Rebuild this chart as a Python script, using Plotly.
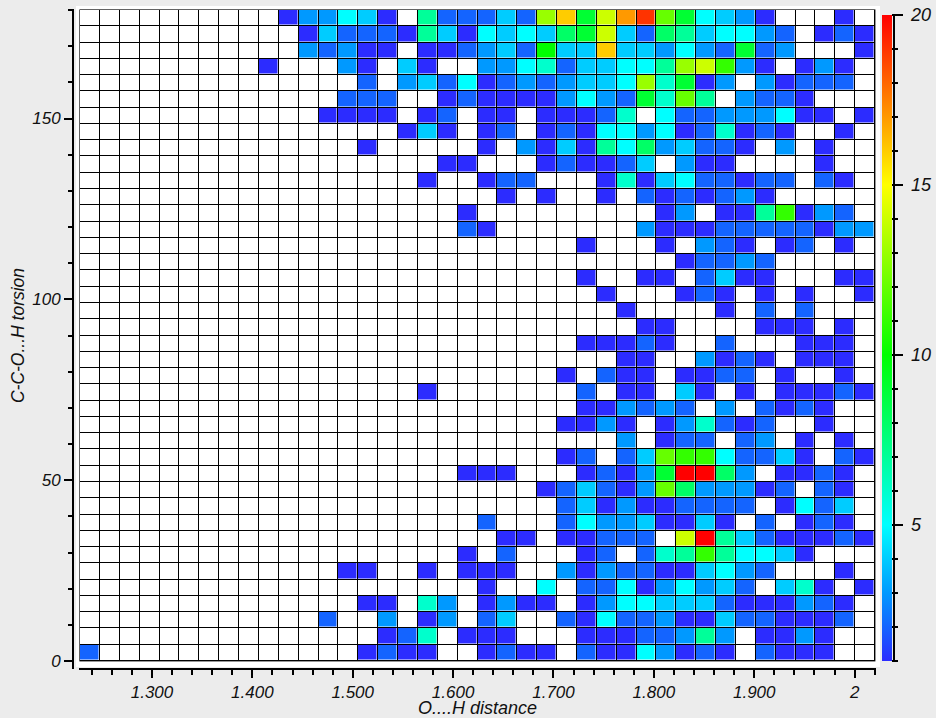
import plotly.graph_objects as go

B = ".........."
# rows top (170-ish to 180 deg) to bottom, one character per bin: '.' empty, base-36 count (a=10 ... k=20)
rows = [
    B + "133541.722" + "242dg9ehjc" + "95431...1.",
    B + ".142221741" + "545489e428" + "745532.121",
    B + ".32311.112" + "342a44g443" + "532923...1",
    ".........1" + "...31.41.." + "3356244557" + "deb31.131.",
    B + "....2.3425" + "12323445d6" + "913.31222.",
    B + "...222..12" + "1111353296" + "c7.3221...",
    B + "..1111.12." + "11.11126.5" + "22333511.1",
    B + "......141." + "12.1215535" + "126121..1.",
    B + "....1....." + "1.31417583" + "4221.3.1..",
    B + "........11" + "...121124." + "311....1..",
    B + ".......1.." + "122...1614" + "522122.21.",
    B + B + ".1.1..1.21" + "21231.....",
    B + ".........1" + ".........1" + "3.117b132.",
    B + ".........2" + "1.......31" + "1122222133",
    B + B + ".....1...1" + ".321.12.1.",
    B + B + B + "12232.....",
    B + B + ".....1..11" + ".2411...11",
    B + B + "......1..." + "121.1.1..1",
    B + B + ".......1.." + "..1.2.2...",
    B + B + "........11" + "....111.1.",
    B + B + ".....11121" + "..2...111.",
    B + B + ".......11." + ".3121.111.",
    B + B + "....1.211." + "1122.1..1.",
    B + ".......1.." + ".....2.11." + "41.1.11121",
    B + B + ".....11323" + "2.3.2121..",
    B + B + "....1131.1" + "36212..1..",
    B + B + ".......3.1" + "22.23.1.1.",
    B + B + "....12.24c" + "bb52241.21",
    B + ".........1" + "11...12139" + "kk83.1121.",
    B + B + "...124213c" + "833312.21.",
    B + B + "....241311" + "2222.1524.",
    B + B + "2...253341" + "141.2.121.",
    B + B + ".11.11222." + "ek74211121",
    B + ".........1" + ".2...12.26" + "7b75541...",
    B + "...11..1.1" + "11..313221" + "14532...1.",
    B + B + "1..5.22513" + "5342.461.1",
    B + "....11.63." + "1311.13554" + "442111321.",
    B + "..2..3.13." + "24..215223" + "114221112.",
    B + ".....126.1" + "11...11122" + "373.1131..",
    "2........." + "....1211.." + "1211.21153" + "121.2111..",
]
rows = [r.ljust(40, ".")[:40] for r in rows]

x_start, x_bin = 1.2283, 0.0198
y_start, y_bin = 0.0, 4.5
n = 40
x_tick_vals = [1.3, 1.4, 1.5, 1.6, 1.7, 1.8, 1.9, 2.0]
x_tick_text = ["1.300", "1.400", "1.500", "1.600", "1.700", "1.800", "1.900", "2"]
y_tick_vals = [0, 50, 100, 150]
cb_major = [5, 10, 15, 20]
cb_major_text = ["\u00a05", "\u00a010", "\u00a015", "\u00a020"]
cb_minor = list(range(1, 21))
stops = [(1, "#2c2cff"), (2, "#1464ff"), (3, "#0099ff"), (4, "#00ccff"), (5, "#00ffff"),
         (10, "#00ff00"), (15, "#ffff00"), (20, "#ff0000")]

z = [[None if c == "." else int(c, 36) for c in r] for r in reversed(rows)]
xc = [x_start + (i + 0.5) * x_bin for i in range(n)]
yc = [y_start + (j + 0.5) * y_bin for j in range(n)]
scale = [[(v - 1) / 19, c] for v, c in stops]
white = [[0, "#fff"], [1, "#fff"]]
black = [[0, "#000"], [1, "#000"]]

W, H = 936, 718
L, R, T, Bm = 73, 876, 9, 669
PW, PH = R - L, Bm - T
xpx = 1004.0   # pixels per x unit
ypx = 651 / 180
x_end = x_start + n * x_bin
y_end = y_start + n * y_bin
x_rng = [x_start - 1 / xpx, x_end + 1 / xpx]
y_rng = [y_start - 1 / ypx, y_end + 1 / ypx]
px = lambda p: (p - L) / PW
py = lambda p: (Bm - p) / PH
tf = dict(family="Liberation Sans", size=17, color="#111", style="italic")
cbf = dict(family="Liberation Sans", size=18, color="#111", style="italic")

fig = go.Figure()
fig.add_trace(go.Heatmap(z=[[0]], x=[x_start - .6 / xpx, x_end + .6 / xpx], y=[y_start - .6 / ypx, y_end + .6 / ypx],
                         colorscale=black, showscale=False, hoverinfo="skip"))
fig.add_trace(go.Heatmap(z=[[0] * n for _ in range(n)], x=xc, y=yc, colorscale=white, showscale=False,
                         xgap=1, ygap=1, hoverinfo="skip"))
# minor tick colourbar underneath
fig.add_trace(go.Heatmap(z=[[None, 1], [20, None]], x=xc[:2], y=yc[:2], zmin=1, zmax=20, colorscale=scale, opacity=0,
                         hoverinfo="skip",
                         colorbar=dict(x=px(882), xanchor="left", xpad=0, ypad=0, y=py(661), yanchor="bottom",
                                       lenmode="pixels", len=646, thickness=10, outlinewidth=0, borderwidth=0,
                                       tickvals=cb_minor, ticktext=[""] * len(cb_minor), ticks="outside",
                                       ticklen=6, tickwidth=2, tickcolor="#000")))
fig.add_trace(go.Heatmap(z=z, x=xc, y=yc, zmin=1, zmax=20, colorscale=scale, xgap=1.5, ygap=1.5,
                         colorbar=dict(x=px(882), xanchor="left", xpad=0, ypad=0, y=py(661), yanchor="bottom",
                                       lenmode="pixels", len=646, thickness=10, outlinewidth=0, borderwidth=0,
                                       tickvals=cb_major, ticktext=cb_major_text, ticks="outside", ticklen=11,
                                       tickwidth=2, tickcolor="#000", tickfont=cbf)))
fig.update_layout(
    width=W, height=H, margin=dict(l=L, r=W - R, t=T, b=H - Bm, autoexpand=False),
    paper_bgcolor="#ececec", plot_bgcolor="#ffffff",
    xaxis=dict(domain=[px(79), 1], range=x_rng, anchor="free", position=0, showgrid=False, zeroline=False,
               tickvals=x_tick_vals, ticktext=x_tick_text, ticks="outside", ticklen=8, tickwidth=2, tickcolor="#000",
               showline=True, linewidth=2, linecolor="#000", tickfont=tf, automargin=False,
               minor=dict(tick0=1.3, dtick=0.02, ticks="outside", ticklen=5, tickwidth=2, tickcolor="#000", showgrid=False),
               title=dict(text="O....H distance", font=dict(family="Liberation Sans", size=18, color="#111", style="italic"), standoff=7)),
    yaxis=dict(domain=[py(662), 1], range=y_rng, anchor="free", position=0, showgrid=False, zeroline=False,
               tickvals=y_tick_vals, ticks="outside", ticklen=8, tickwidth=2, tickcolor="#000",
               showline=True, linewidth=2, linecolor="#000", tickfont=tf, automargin=False,
               minor=dict(tick0=0, dtick=10, ticks="outside", ticklen=4, tickwidth=2, tickcolor="#000", showgrid=False),
               title=dict(text="C-C-O...H torsion", font=dict(family="Liberation Sans", size=17.5, color="#111", style="italic"), standoff=2)),
    shapes=[
        dict(type="rect", xref="paper", yref="paper", x0=px(76), x1=px(880), y0=py(667), y1=py(6),
             fillcolor="#fff", line_width=0, layer="below"),
        dict(type="line", xref="paper", yref="paper", x0=px(73), x1=px(73), y0=py(669), y1=py(10),
             line=dict(color="#000", width=2)),
        dict(type="line", xref="paper", yref="paper", x0=px(894), x1=px(894), y0=py(661), y1=py(15),
             line=dict(color="#000", width=2)),
    ],
)
fig.write_html("out.html", config=dict(displayModeBar=False),
               post_script="document.body.style.margin='0';document.documentElement.style.background='#ececec';")
